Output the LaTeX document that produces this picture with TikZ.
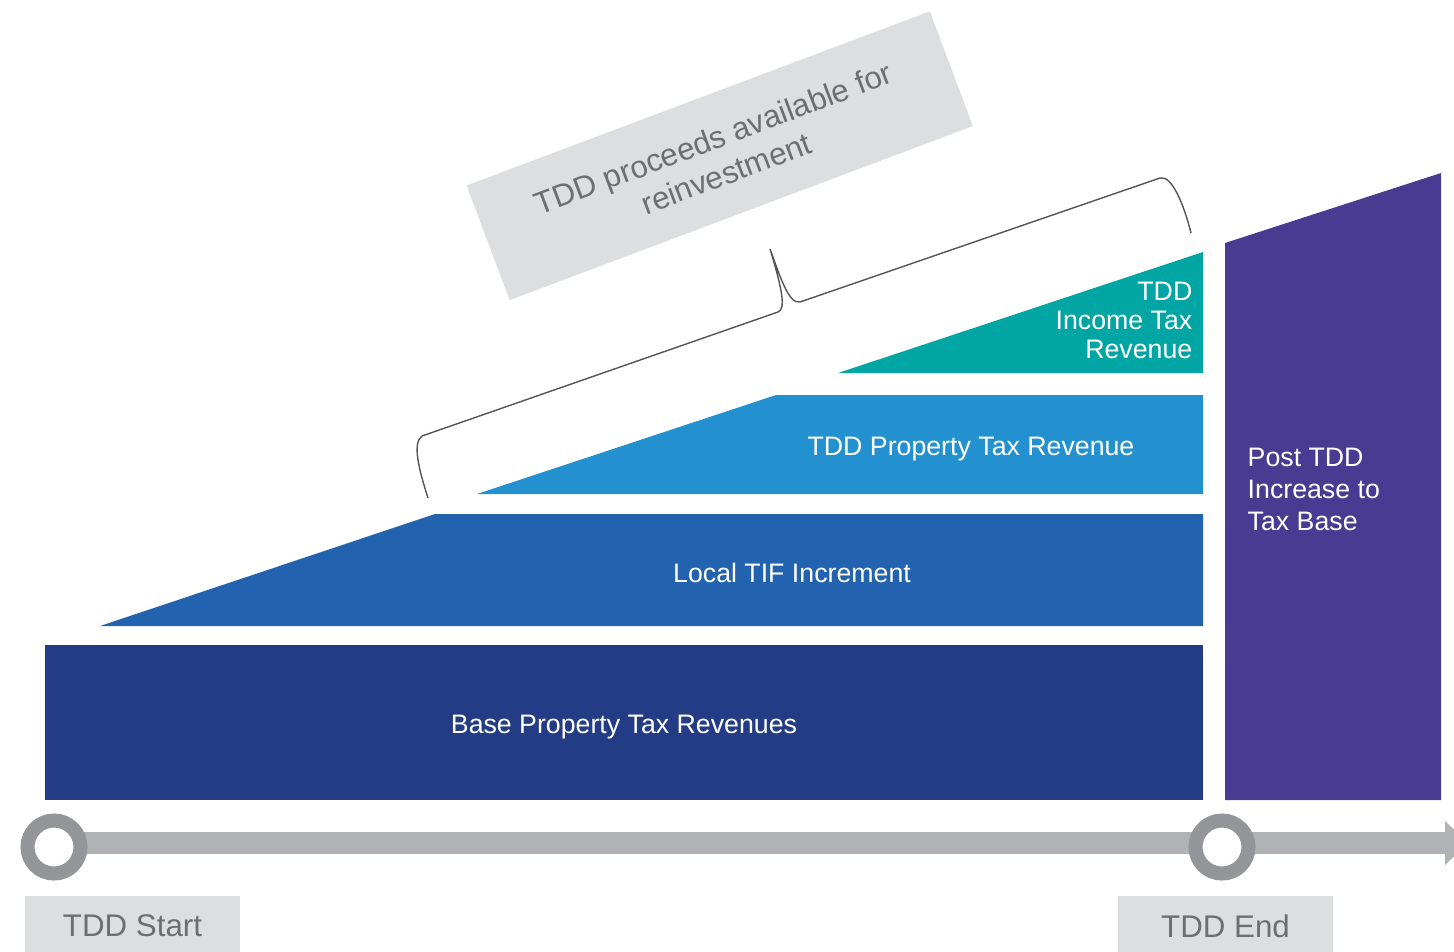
\documentclass[tikz,border=0pt]{standalone}
\usepackage{fontspec}
\setmainfont{Liberation Sans}
\definecolor{navy}{HTML}{243C86}
\definecolor{tifblue}{HTML}{2262AE}
\definecolor{propblue}{HTML}{2391D0}
\definecolor{tealc}{HTML}{00A5A4}
\definecolor{purplec}{HTML}{493A92}
\definecolor{boxgray}{HTML}{DDDEE0}
\definecolor{bargray}{HTML}{B0B2B5}
\definecolor{ringgray}{HTML}{939598}
\definecolor{textgray}{HTML}{6D6E71}
\definecolor{bracegray}{HTML}{555555}
\tikzset{
  whitetxt/.style={text=white, font=\fontsize{7.6}{9.1}\selectfont, inner sep=0pt},
  graytxt/.style={text=textgray, font=\fontsize{8.9}{10.6}\selectfont},
  labelbox/.style={fill=boxgray, graytxt, minimum width=2.15cm, minimum height=0.6cm, inner sep=0pt},
  ring/.style={circle, draw=ringgray, line width=3.98pt, fill=white, minimum size=0.53cm, inner sep=0pt},
}
\begin{document}
\begin{tikzpicture}[x=0.01cm,y=-0.01cm]
\useasboundingbox (0,0) rectangle (1454,951);
\clip (0,0) rectangle (1454,951);
% gray rotated label
\node[fill=boxgray, minimum width=4.946cm, minimum height=1.224cm, rotate=20.6, inner sep=0pt,
      graytxt, align=center] (proceeds) at (719.75,155.75) {TDD proceeds available for\\reinvestment};
% brace
\draw[bracegray, line width=0.4pt] (428,498) .. controls (419,470) and (412,443) .. (422,436)
   -- (778,312) .. controls (785,309) and (784,295) .. (770,249)
   .. controls (778,270) and (788,305) .. (800,302)
   -- (1160,178) .. controls (1172,175) and (1184,205) .. (1191,233);
% layers
\fill[navy] (45,645) rectangle (1203,800);
\fill[tifblue] (100,626) -- (435,514) -- (1203,514) -- (1203,626) -- cycle;
\fill[propblue] (477,494) -- (776,395) -- (1203,395) -- (1203,494) -- cycle;
\fill[tealc] (838,373) -- (1203,252) -- (1203,373) -- cycle;
\fill[purplec] (1225,243) -- (1441,173) -- (1441,800) -- (1225,800) -- cycle;
% texts
\node[whitetxt] (base) at (624,727) {Base Property Tax Revenues};
\node[whitetxt] (tif) at (792,573) {Local TIF Increment};
\node[whitetxt] (prop) at (971,449) {TDD Property Tax Revenue};
\node[whitetxt, font=\fontsize{7.6}{8.25}\selectfont, align=right, anchor=east] (income) at (1193,320) {TDD\\Income Tax\\Revenue};
\node[whitetxt, align=left, anchor=west] (post) at (1247,489) {Post TDD\\Increase to\\Tax Base};
% timeline
\coordinate (barstart) at (54,843);
\coordinate (arrowbase) at (1445,843);
\draw[bargray, line width=6.3pt] (barstart) -- (arrowbase);
\fill[bargray] (1445,821) -- (1468,843) -- (1445,865) -- cycle;
\node[ring] (start) at (54,847) {};
\node[ring] (end) at (1222,847) {};
% bottom labels
\node[labelbox] (startlbl) at (132.5,926) {TDD Start};
\node[labelbox] (endlbl) at (1225.5,926) {TDD End};
\end{tikzpicture}
\end{document}
